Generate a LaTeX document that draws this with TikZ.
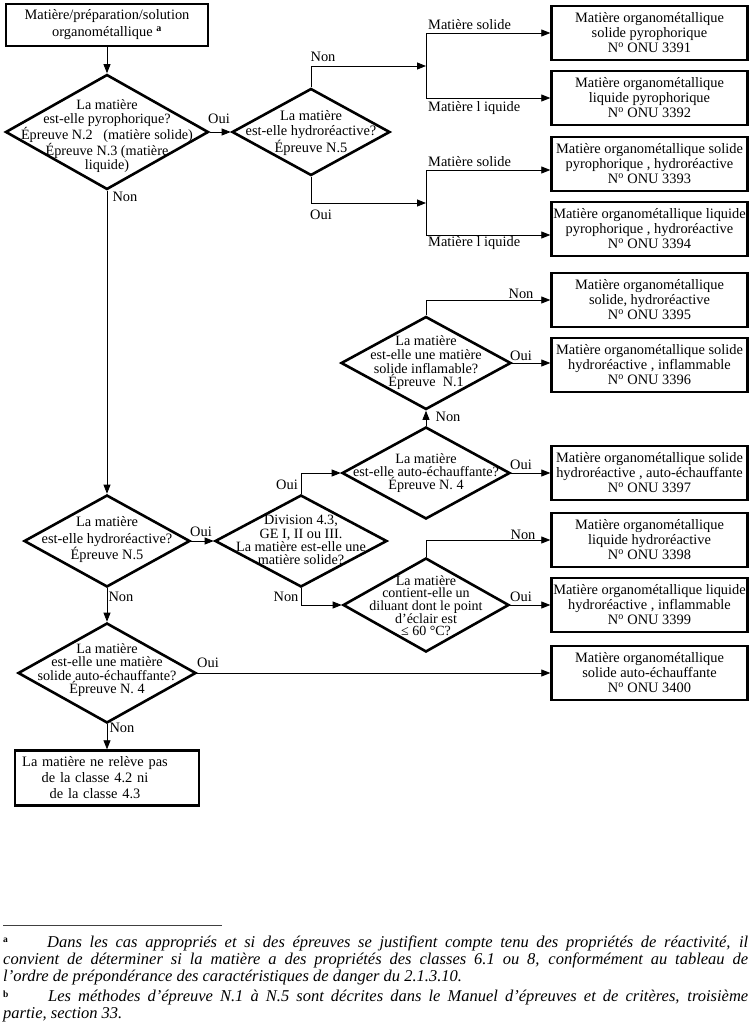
\documentclass[tikz,border=0pt]{standalone}
\usepackage{fontspec}
\setmainfont{Liberation Serif}
\usetikzlibrary{shapes.geometric,arrows.meta,calc}
\newcommand{\fsz}[2]{\fontsize{#1}{#2}\selectfont}
\newcommand{\nro}{N\textsuperscript{o}}
\begin{document}
\begin{tikzpicture}[x=1pt,y=-1pt,
  box/.style={draw, line width=2.4pt, minimum width=196pt, minimum height=54pt, inner sep=0pt, align=center, font=\fsz{14.4}{15}},
  dia/.style={draw, diamond, line width=2.6pt, inner sep=0pt},
  dtext/.style={align=center, inner sep=0pt},
  arr/.style={line width=0.8pt, -{Triangle[length=9pt,width=7pt]}},
  ln/.style={line width=0.8pt},
  lab/.style={inner sep=0pt, font=\fsz{14.4}{15}},
  fn/.style={inner sep=0pt, font=\fsz{16.5}{17}\itshape},
  fnmark/.style={inner sep=0pt, font=\fsz{9.5}{9.5}\bfseries}
]
\fill[white] (0,0) rectangle (751,1034);
\useasboundingbox (0,0) rectangle (751,1034);

% start box
\node[box, minimum width=202pt, minimum height=42pt, font=\fsz{14.4}{17}] (start) at (107,25)
  {Matière/préparation/solution\\organométallique \textsuperscript{\bfseries a}};

% diamonds
\node[dia, minimum width=203pt, minimum height=115pt] (d1) at (107,132) {};
\node[dtext, font=\fsz{14.2}{13.7}] (d1t) at (107,136) {La matière\\est-elle pyrophorique?\\Épreuve N.2\ \ \ (matière solide)\\Épreuve N.3 (matière\\liquide)};

\node[dia, minimum width=158pt, minimum height=87pt] (d2) at (311,132) {};
\node[dtext, font=\fsz{14.4}{15}] (d2t) at (311,133) {La matière\\est-elle hydroréactive?\\Épreuve N.5};

\node[dia, minimum width=170pt, minimum height=93pt] (d8) at (426,363) {};
\node[dtext, font=\fsz{14.2}{13.7}] (d8t) at (426,363) {La matière\\est-elle une matière\\solide inflamable?\\Épreuve\ \ N.1};

\node[dia, minimum width=168pt, minimum height=92pt] (d7) at (426,473) {};
\node[dtext, font=\fsz{14.2}{13.2}] (d7t) at (426,473) {La matière\\est-elle auto-échauffante?\\Épreuve N. 4};

\node[dia, minimum width=166pt, minimum height=92pt] (d4) at (107,541) {};
\node[dtext, font=\fsz{14.4}{16.5}] (d4t) at (107,540) {La matière\\est-elle hydroréactive?\\Épreuve N.5};

\node[dia, minimum width=172pt, minimum height=92pt] (d6) at (301,541) {};
\node[dtext, font=\fsz{14.2}{13.2}] (d6t) at (301,540) {Division 4.3,\\GE I, II ou III.\\La matière est-elle une\\matière solide?};

\node[dia, minimum width=166pt, minimum height=94pt] (d9) at (426,605) {};
\node[dtext, font=\fsz{14}{12.2}] (d9t) at (426,606) {La matière\\contient-elle un\\diluant dont le point\\d'éclair est\\≤ 60 °C?};

\node[dia, minimum width=178pt, minimum height=100pt] (d5) at (107,673) {};
\node[dtext, font=\fsz{14.2}{13.2}] (d5t) at (107,670) {La matière\\est-elle une matière\\solide auto-échauffante?\\Épreuve N. 4};

% result boxes
\node[box] (b3391) at (649.5,33) {Matière organométallique\\solide pyrophorique\\\nro\ ONU 3391};
\node[box] (b3392) at (649.5,98) {Matière organométallique\\liquide pyrophorique\\\nro\ ONU 3392};
\node[box] (b3393) at (649.5,164) {Matière organométallique solide\\pyrophorique , hydroréactive\\\nro\ ONU 3393};
\node[box] (b3394) at (649.5,229) {Matière organométallique liquide\\pyrophorique , hydroréactive\\\nro\ ONU 3394};
\node[box] (b3395) at (649.5,300) {Matière organométallique\\solide, hydroréactive\\\nro\ ONU 3395};
\node[box] (b3396) at (649.5,365) {Matière organométallique solide\\hydroréactive , inflammable\\\nro\ ONU 3396};
\node[box] (b3397) at (649.5,473) {Matière organométallique solide\\hydroréactive , auto-échauffante\\\nro\ ONU 3397};
\node[box] (b3398) at (649.5,540) {Matière organométallique\\liquide hydroréactive\\\nro\ ONU 3398};
\node[box] (b3399) at (649.5,605) {Matière organométallique liquide\\hydroréactive , inflammable\\\nro\ ONU 3399};
\node[box] (b3400) at (649.5,673) {Matière organométallique\\solide auto-échauffante\\\nro\ ONU 3400};

\node[box, minimum width=184pt, minimum height=55pt, text width=184pt, font=\fsz{14.4}{16}] (bend) at (107,778)
  {\hspace*{-24pt}La matière ne relève pas\\\hspace*{-24pt}de la classe 4.2 ni\\\hspace*{-24pt}de la classe 4.3};

% junction coordinates
\coordinate (j1) at (426,66);
\coordinate (j1a) at (426,33);
\coordinate (j1b) at (426,98);
\coordinate (j2) at (426,203);
\coordinate (j2a) at (426,170);
\coordinate (j2b) at (426,235);

% connectors
\draw[arr] (start.south) -- (d1.north);
\draw[arr] (d1.east) -- (d2.west);
\draw[arr] (d2.north) |- (j1);
\draw[ln] (j1a) -- (j1b);
\draw[arr] (j1a) -- (b3391.west |- j1a);
\draw[arr] (j1b) -- (b3392.west |- j1b);
\draw[arr] (d2.south) |- (j2);
\draw[ln] (j2a) -- (j2b);
\draw[arr] (j2a) -- (b3393.west |- j2a);
\draw[arr] (j2b) -- (b3394.west |- j2b);
\draw[arr] (d1.south) -- (d4.north);
\draw[arr] (d4.east) -- (d6.west);
\draw[arr] (d6.north) |- (d7.west);
\draw[arr] (d7.east) -- (b3397.west);
\draw[arr] (d7.north) -- (d8.south);
\draw[arr] (d8.north) |- (b3395.west);
\draw[arr] (d8.east) -- (b3396.west |- d8.east);
\draw[arr] (d6.south) |- (d9.west);
\draw[arr] (d9.north) |- (b3398.west);
\draw[arr] (d9.east) -- (b3399.west);
\draw[arr] (d4.south) -- (d5.north);
\draw[arr] (d5.east) -- (b3400.west);
\draw[arr] (d5.south) -- (bend.north);

% labels
\node[lab] (l1) at (219,119) {Oui};
\node[lab] (l2) at (125,197) {Non};
\node[lab] (l3) at (323,57) {Non};
\node[lab, anchor=west] (l4) at (428,25) {Matière solide};
\node[lab, anchor=west] (l5) at (428,108) {Matière l iquide};
\node[lab] (l6) at (321,215) {Oui};
\node[lab, anchor=west] (l7) at (428,162) {Matière solide};
\node[lab, anchor=west] (l8) at (428,243) {Matière l iquide};
\node[lab] (l9) at (521,294) {Non};
\node[lab] (l10) at (521,356) {Oui};
\node[lab] (l11) at (448,417) {Non};
\node[lab] (l12) at (287,485) {Oui};
\node[lab] (l13) at (521,465) {Oui};
\node[lab] (l14) at (201,532) {Oui};
\node[lab] (l15) at (523,535) {Non};
\node[lab] (l16) at (286,597) {Non};
\node[lab] (l17) at (521,597) {Oui};
\node[lab] (l18) at (121,597) {Non};
\node[lab] (l19) at (208,663) {Oui};
\node[lab] (l20) at (122,728) {Non};

% footnotes
\coordinate (r1) at (3,925);
\coordinate (r2) at (222,925);
\draw[line width=1pt, black!75] (r1) -- (r2);
\node[fnmark, anchor=base west] (ma) at (3,942) {a};
\node[fn, anchor=base west] (f1) at (47,947) {\makebox[701pt][s]{Dans les cas appropriés et si des épreuves se justifient compte tenu des propriétés de réactivité, il}};
\node[fn, anchor=base west] (f2) at (3,964) {\makebox[745pt][s]{convient de déterminer si la matière a des propriétés des classes 6.1 ou 8, conformément au tableau de}};
\node[fn, anchor=base west] (f3) at (3,981) {l'ordre de prépondérance des caractéristiques de danger du 2.1.3.10.};
\node[fnmark, anchor=base west] (mb) at (3,997) {b};
\node[fn, anchor=base west] (f4) at (48,1001) {\makebox[700pt][s]{Les méthodes d'épreuve N.1 à N.5 sont décrites dans le Manuel d'épreuves et de critères, troisième}};
\node[fn, anchor=base west] (f5) at (3,1018) {partie, section 33.};
\end{tikzpicture}
\end{document}
